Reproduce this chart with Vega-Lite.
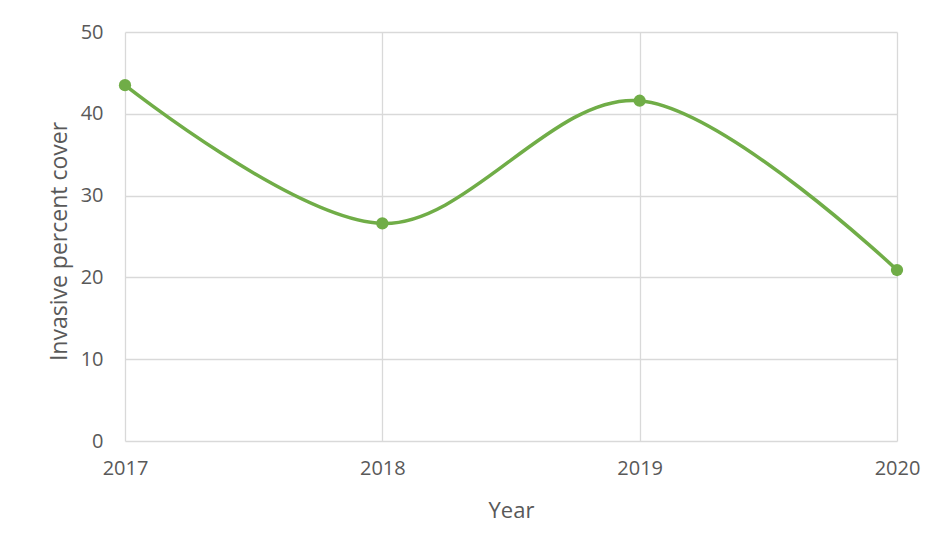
{
  "$schema": "https://vega.github.io/schema/vega-lite/v6.json",
  "width": 772,
  "height": 409,
  "autosize": "none",
  "padding": {"left": 125, "top": 32, "right": 39, "bottom": 111},
  "background": "white",
  "config": {
    "view": {"stroke": null},
    "font": "Open Sans",
    "axis": {
      "labelFont": "Open Sans",
      "titleFont": "Open Sans",
      "labelColor": "#595959",
      "titleColor": "#595959",
      "labelFontSize": 20,
      "titleFontSize": 21,
      "titleFontWeight": "normal",
      "gridColor": "#d9d9d9",
      "gridWidth": 1.3,
      "domain": false,
      "ticks": false
    }
  },
  "data": {
    "values": [
      {"Year": 2017, "Cover": 43.5},
      {"Year": 2018, "Cover": 26.6},
      {"Year": 2019, "Cover": 41.6},
      {"Year": 2020, "Cover": 20.9}
    ]
  },
  "encoding": {
    "x": {
      "field": "Year",
      "type": "quantitative",
      "scale": {"domain": [2017, 2020], "nice": false, "zero": false},
      "axis": {
        "values": [2017, 2018, 2019, 2020],
        "format": "d",
        "labelPadding": 17,
        "labelFlush": false,
        "title": "Year",
        "titleFontSize": 22,
        "titleX": 386,
        "titleY": 69,
        "titleBaseline": "middle",
        "titleAlign": "center"
      }
    },
    "y": {
      "field": "Cover",
      "type": "quantitative",
      "scale": {"domain": [0, 50], "nice": false},
      "axis": {
        "values": [0, 10, 20, 30, 40, 50],
        "labelPadding": 22,
        "title": "Invasive percent cover",
        "titleFontSize": 23,
        "titleX": -66,
        "titleY": 209,
        "titleAngle": -90,
        "titleBaseline": "middle",
        "titleAlign": "center"
      }
    }
  },
  "layer": [
    {
      "mark": {"type": "line", "interpolate": "cardinal", "color": "#70ad47", "strokeWidth": 3.5}
    },
    {
      "mark": {"type": "point", "filled": true, "opacity": 1, "color": "#70ad47", "size": 150}
    }
  ]
}
